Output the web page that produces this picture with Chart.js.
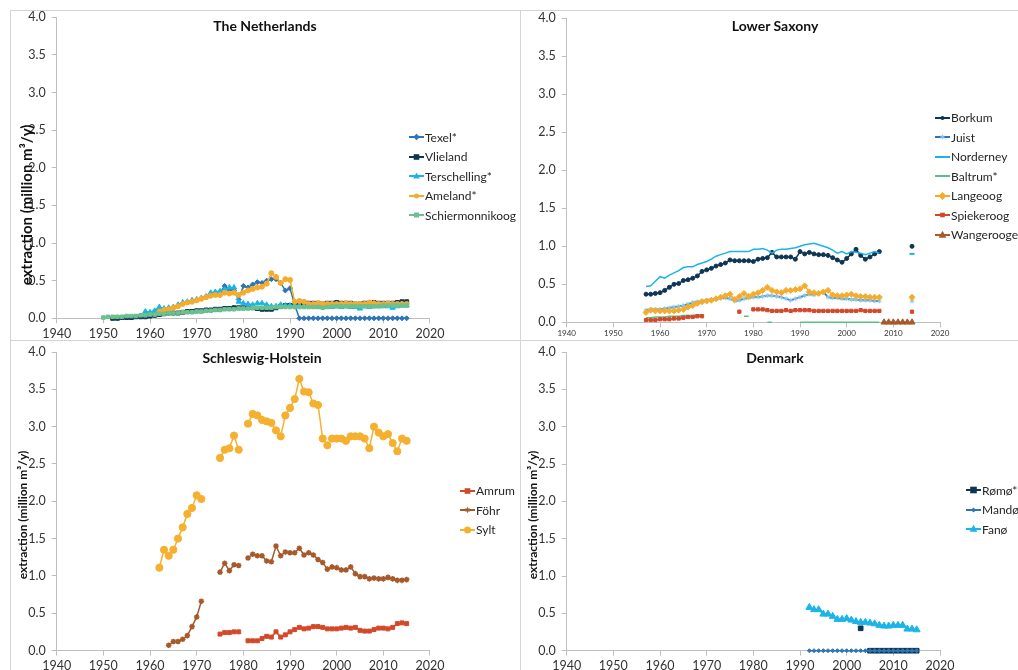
<!DOCTYPE html>
<html><head><meta charset="utf-8">
<script src="https://cdn.jsdelivr.net/npm/chart.js@4"></script>
<style>
body{margin:0;width:1018px;height:670px;background:#fff;position:relative;overflow:hidden;font-family:Lato,"Open Sans",sans-serif;color:#262626}
canvas.c{position:absolute;left:0;top:0}
.panel{position:absolute;border:1px solid #d4d4d4;box-sizing:border-box}
.title{position:absolute;font-weight:bold;font-size:14px;transform:translate(-50%,-50%);white-space:nowrap;color:#111}
.ylab{position:absolute;font-weight:bold;white-space:nowrap;transform:translate(-50%,-50%) rotate(-90deg);color:#111}
.leg{position:absolute;font-size:12px;line-height:19.5px}
.leg div{height:19.5px;display:flex;align-items:center;white-space:nowrap}
.leg svg{margin-right:1px}
</style></head><body>
<div class="panel" style="left:10px;top:10px;width:511px;height:331px"></div>
<div class="panel" style="left:520px;top:10px;width:520px;height:331px"></div>
<div class="panel" style="left:10px;top:340px;width:511px;height:340px"></div>
<div class="panel" style="left:520px;top:340px;width:520px;height:340px"></div>
<canvas class="c" id="nl" width="1018" height="670"></canvas>
<canvas class="c" id="ls" width="1018" height="670"></canvas>
<canvas class="c" id="sh" width="1018" height="670"></canvas>
<canvas class="c" id="dk" width="1018" height="670"></canvas>
<div class="title" style="left:265px;top:25px">The Netherlands</div>
<div class="title" style="left:775px;top:25px">Lower Saxony</div>
<div class="title" style="left:262px;top:357px">Schleswig-Holstein</div>
<div class="title" style="left:775px;top:357px">Denmark</div>
<div class="ylab" style="left:26px;top:205px;font-size:15px">extraction (million m³/y)</div>
<div class="ylab" style="left:22px;top:515px;font-size:12px">extraction (million m³/y)</div>
<div class="ylab" style="left:532px;top:515px;font-size:12px">extraction (million m³/y)</div>
<div class="leg" id="leg-nl" style="left:409px;top:127.5px"></div>
<div class="leg" id="leg-ls" style="left:935px;top:108px"></div>
<div class="leg" id="leg-sh" style="left:460px;top:481px"></div>
<div class="leg" id="leg-dk" style="left:966px;top:480.5px"></div>
<script>
// ---------- categories / tick labels ----------
const X_MIN = 1940, X_MAX = 2020, X_STEP = 10;
const Y_MIN = 0, Y_MAX = 4, Y_STEP = 0.5;

// ---------- The Netherlands (1950-2015) ----------
const NL_START = 1950;
const NL_NAMES = ["Texel*", "Vlieland", "Terschelling*", "Ameland*", "Schiermonnikoog"];
const nlTexel = [null,null,null,null,null,null,null,null,null,
 0.07,0.07,0.09,0.13,0.12,0.13,0.14,0.17,0.20,0.21,0.23,0.24,0.26,0.28,0.32,0.33,0.34,0.43,0.38,0.37,0.25,
 0.43,0.41,0.45,0.48,0.47,0.50,0.52,0.52,0.47,0.37,0.40,0.18,
 0,0,0,0,0,0,0,0,0,0,0,0,0,0,0,0,0,0,0,0,0,0,0,0];
const nlVlieland = [null,null,
 0.00,0.00,0.01,0.01,0.01,0.02,0.02,0.02,0.03,0.04,0.05,0.06,0.07,0.07,0.07,0.08,0.09,0.09,0.10,0.10,0.11,0.11,
 0.12,0.12,0.13,0.13,0.14,0.14,0.14,0.15,0.14,0.13,0.12,0.12,0.12,0.14,0.16,0.17,0.17,0.18,0.18,0.19,0.20,0.20,
 0.20,0.19,0.20,0.20,0.21,0.20,0.20,0.20,0.19,0.19,0.20,0.20,0.21,0.20,0.20,0.20,0.20,0.21,0.22,0.22];
const nlTerschelling = [null,null,null,null,null,null,null,null,null,
 0.09,0.08,0.10,0.15,0.13,0.14,0.15,0.18,0.21,0.22,0.24,0.25,0.27,0.29,0.34,0.35,0.36,0.38,0.41,0.41,0.22,
 0.20,0.19,0.18,0.20,0.20,0.18,0.16,0.16,0.18,0.17,0.17,0.17,0.17,0.16,0.16,0.16,0.15,0.15,0.16,0.15,
 0.16,0.15,0.16,0.15,0.15,0.13,0.16,0.15,0.16,0.16,0.16,0.16,0.14,0.16,0.17,0.17];
const nlAmeland = [null,null,null,null,null,null,null,null,null,null,null,null,
 0.09,0.11,0.12,0.14,0.16,0.19,0.21,0.22,0.24,0.26,0.28,0.30,0.31,0.31,0.34,0.33,0.34,0.31,
 0.34,0.37,0.39,0.41,0.42,0.46,0.60,0.55,0.47,0.52,0.51,0.22,0.23,0.22,0.19,0.19,0.20,0.19,0.19,0.19,
 0.19,0.19,0.20,0.19,0.19,0.19,0.19,0.21,0.20,0.19,0.19,0.20,0.19,0.19,0.19,0.19];
const nlSchier = [0.01,0.02,0.02,0.02,0.02,0.03,0.03,0.03,0.04,0.04,
 0.05,0.05,0.06,0.06,0.07,0.07,0.07,0.08,0.08,0.08,0.09,0.09,0.10,0.10,0.11,0.11,0.12,0.12,0.12,0.13,
 0.13,0.13,0.14,0.14,0.14,0.14,0.14,0.15,0.15,0.15,0.15,0.15,0.15,0.15,0.15,0.15,0.15,0.14,0.15,0.16,
 0.16,0.16,0.16,0.16,0.16,0.16,0.16,0.16,0.16,0.16,0.17,0.17,0.17,0.17,0.17,0.17];

// ---------- Lower Saxony (1957-2014) ----------
const LS_START = 1957;
const LS_NAMES = ["Borkum", "Juist", "Norderney", "Baltrum*", "Langeoog", "Spiekeroog", "Wangerooge"];
const lsBorkum = [0.37,0.37,0.38,0.39,0.42,0.46,0.50,0.51,0.55,0.56,0.58,0.61,0.67,0.69,0.71,0.74,0.76,0.78,0.82,
 0.81,0.81,0.81,0.81,0.80,0.83,0.84,0.85,0.92,0.86,0.86,0.86,0.86,0.83,0.93,0.90,0.92,0.90,0.89,0.89,0.88,
 0.85,0.82,0.79,0.84,0.90,0.96,0.88,0.83,0.86,0.90,0.93,
 null,null,null,null,null,null,1.00];
const lsJuist = [0.16,0.17,0.17,0.17,0.18,0.19,0.20,0.21,0.22,0.24,0.26,0.27,0.28,0.29,0.30,0.31,0.32,0.32,0.31,
 0.28,0.29,0.31,0.32,0.33,0.33,0.34,0.35,0.35,0.34,0.33,0.31,0.29,0.31,0.33,0.35,0.37,0.36,0.38,0.40,0.33,
 0.32,0.32,0.31,0.31,0.30,0.30,0.29,0.29,0.29,0.28,0.28,
 null,null,null,null,null,null,0.28];
const lsNorderney = [0.47,0.48,0.54,0.60,0.58,0.62,0.65,0.68,0.72,0.73,0.73,0.76,0.78,0.80,0.83,0.87,0.89,0.91,0.93,
 0.93,0.93,0.93,0.93,0.96,0.96,0.97,0.95,0.91,0.95,0.96,0.96,0.97,0.98,1.00,1.02,1.03,1.04,1.02,1.00,0.98,
 0.95,0.91,0.93,0.90,0.93,0.92,0.91,0.89,0.91,0.93,0.91,
 null,null,null,null,null,null,0.90];
const lsBaltrum = [0.06,0.06,0.07,0.07,0.07,0.08,0.08,0.08,0.09,0.09,0.09,0.10,0.10,
 null,null,null,null,null,null,null,null,0.08,0.08,null,null,null,0.00,0.00,null,null,null,null,null,
 0.00,0.00,0.00,0.00,0.00,0.00,0.00,0.00,0.00,0.00,0.00,0.00,0.00,0.00,0.00,0.00,0.00,0.00,
 null,null,null,null,null,null,null];
const lsLangeoog = [0.13,0.16,0.15,0.15,0.15,0.15,0.15,0.16,0.17,0.20,0.22,0.25,0.27,0.28,0.29,0.31,0.33,0.35,0.37,
 0.30,0.34,0.38,0.34,0.37,0.39,0.42,0.46,0.42,0.40,0.39,0.42,0.42,0.43,0.44,0.48,0.40,0.39,0.38,0.40,0.42,
 0.36,0.35,0.35,0.36,0.37,0.35,0.34,0.34,0.33,0.33,0.33,
 null,null,null,null,null,null,0.33];
const lsSpiekeroog = [0.03,0.03,0.03,0.04,0.04,0.04,0.05,0.05,0.06,0.07,0.07,0.08,0.08,
 null,null,null,null,null,null,null,0.14,null,null,
 0.17,0.17,0.17,0.16,0.15,0.15,0.15,0.16,0.15,0.16,0.16,0.16,0.16,0.15,0.15,0.15,0.15,0.15,0.15,0.15,
 0.15,0.15,0.15,0.16,0.15,0.15,0.15,0.15,
 null,null,null,null,null,null,0.14];
const lsWangerooge = [null,null,null,null,null,null,null,null,null,null,null,null,null,null,null,null,null,
 null,null,null,null,null,null,null,null,null,null,null,null,null,null,null,null,null,null,null,null,null,
 null,null,null,null,null,null,null,null,null,null,null,null,null,
 0,0,0,0,0,0,0];

// ---------- Schleswig-Holstein (1962-2015) ----------
const SH_START = 1962;
const SH_NAMES = ["Amrum", "Föhr", "Sylt"];
const shAmrum = [null,null,null,null,null,null,null,null,null,null,null,null,null,
 0.22,0.24,0.24,0.25,0.25,null,0.13,0.13,0.13,0.16,0.19,0.18,0.25,0.18,0.21,0.25,0.28,0.31,0.29,0.30,
 0.32,0.32,0.31,0.29,0.29,0.29,0.30,0.31,0.30,0.31,0.27,0.26,0.26,0.28,0.30,0.30,0.29,0.31,0.36,0.37,0.36];
const shFohr = [null,null,0.07,0.12,0.12,0.15,0.20,0.32,0.45,0.66,null,null,null,
 1.05,1.17,1.07,1.15,1.14,null,1.24,1.29,1.27,1.27,1.20,1.19,1.40,1.27,1.32,1.31,1.31,1.37,1.28,1.31,
 1.28,1.22,1.18,1.09,1.12,1.11,1.08,1.08,1.12,1.03,0.99,0.99,0.96,0.97,0.96,0.96,0.98,0.96,0.94,0.94,0.95];
const shSylt = [1.11,1.35,1.27,1.35,1.50,1.65,1.83,1.91,2.08,2.03,null,null,null,
 2.58,2.69,2.71,2.88,2.69,null,3.04,3.17,3.15,3.09,3.07,3.05,2.95,2.87,3.15,3.25,3.37,3.64,3.47,3.46,
 3.31,3.29,2.84,2.75,2.84,2.84,2.84,2.81,2.87,2.87,2.87,2.84,2.71,3.00,2.92,2.87,2.90,2.78,2.67,2.84,2.81];

// ---------- Denmark (1992-2015) ----------
const DK_START = 1992;
const DK_NAMES = ["Rømø*", "Mandø", "Fanø"];
const dkRomo = [null,null,null,null,null,null,null,null,null,null,null,0.30,null,0,0,0,0,0,0,0,0,0,0,0];
const dkMando = [0,0,0,0,0,0,0,0,0,0,0,0,0,0,0,0,0,0,0,0,0,0,0,0];
const dkFano = [0.58,0.55,0.55,0.49,0.49,0.46,0.42,0.42,0.43,0.41,0.39,0.38,0.38,0.37,0.36,0.34,0.33,0.33,0.34,0.34,0.34,0.29,0.29,0.28];

// ---------- styles ----------
const NAVY='#0f3554', BLUE='#2e75b6', CYAN='#1cb4e8', ORANGE='#f5ac2c', GREEN='#6cc18f',
      RED='#d2492a', BROWN='#a65a2c', SYLT='#f5b030', LBLUE='#8cc8ea', LGREEN='#5dbf86';

const W = 1018, H = 670;
function isoPoint(r){ return c => (c.raw && c.raw.x === 2014) ? r : 0; }

function makePanel(id, legId, area, xFont, start, series){
  const yW = 60, xH = 26;
  const n = series.length;
  new Chart(document.getElementById(id), {
    type: 'line',
    data: { datasets: series.map((s, i) => ({
      label: s.label,
      data: s.values.map((v, j) => ({x: start + j, y: v})),
      borderColor: s.color,
      backgroundColor: s.fill || s.color,
      pointBackgroundColor: s.fill || s.color,
      pointBorderColor: s.pbc || s.color,
      pointBorderWidth: s.pbw || 1,
      pointStyle: s.ps || 'circle',
      pointRadius: s.r,
      borderWidth: s.bw || 1.5,
      tension: 0, spanGaps: false, clip: false,
      order: n - 1 - i
    })) },
    options: {
      responsive: false, animation: false, events: [],
      layout: { padding: { left: area.left - yW, right: W - area.right, top: area.top, bottom: H - area.bottom - xH } },
      plugins: { legend: { display: false }, tooltip: { enabled: false } },
      scales: {
        x: { type: 'linear', min: X_MIN, max: X_MAX,
             ticks: { stepSize: X_STEP, callback: v => String(v), color: '#333', padding: xFont.pad,
                      font: { family: 'Lato', size: xFont.size }, maxRotation: 0, autoSkip: false },
             grid: { drawOnChartArea: false, drawTicks: true, tickLength: 5, color: '#bfbfbf' },
             border: { color: '#bfbfbf' },
             afterFit: s => { s.height = xH; } },
        y: { min: Y_MIN, max: Y_MAX,
             ticks: { stepSize: Y_STEP, callback: v => v.toFixed(1), color: '#333', padding: 6,
                      font: { family: 'Lato', size: 12.5 } },
             grid: { drawOnChartArea: false, drawTicks: true, tickLength: 5, color: '#bfbfbf' },
             border: { color: '#bfbfbf' },
             afterFit: s => { s.width = yW; } }
      }
    }
  });
  // HTML legend
  const leg = document.getElementById(legId);
  series.forEach(s => {
    const d = document.createElement('div');
    d.innerHTML = legendIcon(s) + '<span>' + s.label + '</span>';
    leg.appendChild(d);
  });
}

function legendIcon(s){
  const c = s.color, f = s.fill || s.color, pc = s.pbc || s.color;
  const r = Math.min(typeof s.r === 'number' ? s.r : 0, 3.5);
  let m = '';
  const cx = 7.5, cy = 5;
  if (r > 0) {
    if (s.ps === 'rect') m = `<rect x="${cx-r}" y="${cy-r}" width="${2*r}" height="${2*r}" fill="${f}"/>`;
    else if (s.ps === 'rectRot') m = `<polygon points="${cx},${cy-r*1.3} ${cx+r*1.3},${cy} ${cx},${cy+r*1.3} ${cx-r*1.3},${cy}" fill="${f}"/>`;
    else if (s.ps === 'triangle') m = `<polygon points="${cx},${cy-r*1.2} ${cx+r*1.1},${cy+r*0.8} ${cx-r*1.1},${cy+r*0.8}" fill="${f}"/>`;
    else if (s.ps === 'star') m = `<g stroke="${pc}" stroke-width="1"><line x1="${cx-r}" y1="${cy}" x2="${cx+r}" y2="${cy}"/><line x1="${cx}" y1="${cy-r}" x2="${cx}" y2="${cy+r}"/><line x1="${cx-r*0.7}" y1="${cy-r*0.7}" x2="${cx+r*0.7}" y2="${cy+r*0.7}"/><line x1="${cx-r*0.7}" y1="${cy+r*0.7}" x2="${cx+r*0.7}" y2="${cy-r*0.7}"/></g>`;
    else m = `<circle cx="${cx}" cy="${cy}" r="${r}" fill="${f}"/>`;
  }
  return `<svg width="15" height="10"><line x1="0" y1="5" x2="15" y2="5" stroke="${c}" stroke-width="2"/>${m}</svg>`;
}

makePanel('nl', 'leg-nl', {left: 56.7, right: 430, top: 17.3, bottom: 318.3}, {size: 12.5, pad: 3}, NL_START, [
  {label: NL_NAMES[0], values: nlTexel, color: BLUE, ps: 'rectRot', r: 2.5},
  {label: NL_NAMES[1], values: nlVlieland, color: NAVY, ps: 'rect', r: 2.8},
  {label: NL_NAMES[2], values: nlTerschelling, color: CYAN, ps: 'triangle', r: 3},
  {label: NL_NAMES[3], values: nlAmeland, color: ORANGE, ps: 'circle', r: 2.5},
  {label: NL_NAMES[4], values: nlSchier, color: GREEN, ps: 'rect', r: 2.5}
]);

makePanel('ls', 'leg-ls', {left: 566.7, right: 940, top: 18.3, bottom: 322.3}, {size: 8, pad: 1}, LS_START, [
  {label: LS_NAMES[0], values: lsBorkum, color: NAVY, ps: 'circle', r: 2},
  {label: LS_NAMES[1], values: lsJuist, color: BLUE, ps: 'star', r: 2.3, pbc: LBLUE, bw: 1.8},
  {label: LS_NAMES[2], values: lsNorderney, color: CYAN, ps: 'line', r: isoPoint(2.5), pbw: 2},
  {label: LS_NAMES[3], values: lsBaltrum, color: LGREEN, ps: 'circle', r: 0},
  {label: LS_NAMES[4], values: lsLangeoog, color: ORANGE, ps: 'rectRot', r: 3},
  {label: LS_NAMES[5], values: lsSpiekeroog, color: RED, ps: 'rect', r: 2.3},
  {label: LS_NAMES[6], values: lsWangerooge, color: BROWN, ps: 'triangle', r: 3.5}
]);

makePanel('sh', 'leg-sh', {left: 56.7, right: 430, top: 352, bottom: 650.5}, {size: 12.5, pad: 3}, SH_START, [
  {label: SH_NAMES[0], values: shAmrum, color: RED, ps: 'rect', r: 2.8},
  {label: SH_NAMES[1], values: shFohr, color: BROWN, ps: 'star', r: 2.8, pbw: 1.5},
  {label: SH_NAMES[2], values: shSylt, color: SYLT, ps: 'circle', r: 3.6}
]);

makePanel('dk', 'leg-dk', {left: 566.7, right: 940, top: 352, bottom: 650.7}, {size: 12.5, pad: 3}, DK_START, [
  {label: DK_NAMES[0], values: dkRomo, color: NAVY, ps: 'rect', r: 3.3},
  {label: DK_NAMES[1], values: dkMando, color: BLUE, ps: 'rectRot', r: 2},
  {label: DK_NAMES[2], values: dkFano, color: CYAN, ps: 'triangle', r: 4}
]);
</script>
</body></html>
